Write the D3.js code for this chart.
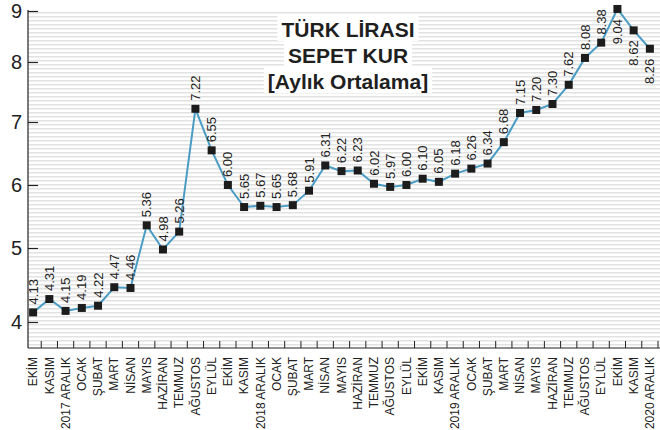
<!DOCTYPE html>
<html>
<head>
<meta charset="utf-8">
<script src="https://cdn.jsdelivr.net/npm/d3@7"></script>
<style>
  html, body { margin: 0; padding: 0; background: #fff; }
  svg { display: block; font-family: "Liberation Sans", Arial, Helvetica, sans-serif; }
</style>
</head>
<body>
<svg id="chart" width="660" height="430"></svg>
<script>
// ---- data ----
const categories = ["EKİM","KASIM","2017 ARALIK","OCAK","ŞUBAT","MART","NİSAN","MAYIS","HAZİRAN","TEMMUZ","AĞUSTOS","EYLÜL",
  "EKİM","KASIM","2018 ARALIK","OCAK","ŞUBAT","MART","NİSAN","MAYIS","HAZİRAN","TEMMUZ","AĞUSTOS","EYLÜL",
  "EKİM","KASIM","2019 ARALIK","OCAK","ŞUBAT","MART","NİSAN","MAYIS","HAZİRAN","TEMMUZ","AĞUSTOS","EYLÜL",
  "EKİM","KASIM","2020 ARALIK"];
const values = [4.13,4.31,4.15,4.19,4.22,4.47,4.46,5.36,4.98,5.26,7.22,6.55,
  6.00,5.65,5.67,5.65,5.68,5.91,6.31,6.22,6.23,6.02,5.97,6.00,
  6.10,6.05,6.18,6.26,6.34,6.68,7.15,7.20,7.30,7.62,8.08,8.38,
  9.04,8.62,8.26];
const yTicks = [4,5,6,7,8,9];
const titleLines = ["TÜRK LİRASI","SEPET KUR","[Aylık Ortalama]"];

// ---- layout ----
const W = 660, H = 430;
const plotLeft = 28, plotRight = 660, plotTop = 10, plotBottom = 348;
const svg = d3.select("#chart");

const x = d3.scaleBand().domain(d3.range(categories.length)).range([25, 658]).padding(0);
const y = d3.scaleLinear().domain([4,5,6,7,8,9]).range([322,248,185,122,62,11]);

// striped background
const defs = svg.append("defs");
const pat = defs.append("pattern").attr("id","stripes").attr("patternUnits","userSpaceOnUse")
  .attr("width",10).attr("height",4);
pat.append("rect").attr("width",10).attr("height",4).attr("fill","#ffffff");
pat.append("rect").attr("y",0).attr("width",10).attr("height",1.5).attr("fill","#e2e2e2");
svg.append("rect").attr("x",plotLeft).attr("y",plotTop)
  .attr("width",plotRight-plotLeft).attr("height",plotBottom-plotTop)
  .attr("fill","url(#stripes)");

// title with white boxes
const tg = svg.append("g").attr("transform","translate(348,0)");
const titleY = [37, 63, 89];
titleLines.forEach((t,i) => {
  const txt = tg.append("text").attr("x",0).attr("y",titleY[i])
    .attr("text-anchor","middle").attr("font-size",21).attr("font-weight","bold")
    .attr("fill","#1f1f1f").text(t);
  const bb = txt.node().getBBox();
  tg.insert("rect","text").attr("x",bb.x-4).attr("y",titleY[i]-22)
    .attr("width",bb.width+8).attr("height",26).attr("fill","#fff");
});

// y axis
const yAxis = d3.axisLeft(y).tickValues(yTicks).tickSize(-10).tickSizeOuter(0).tickPadding(6)
  .tickFormat(d3.format("d"));
const gy = svg.append("g").attr("transform",`translate(${plotLeft},0)`).call(yAxis);
gy.select(".domain").remove();
gy.selectAll(".tick line").attr("stroke","#222").attr("stroke-width",1.2);
gy.selectAll(".tick text").attr("font-size",20).attr("fill","#222")
  .attr("font-family","'Liberation Sans', Arial, sans-serif");
svg.append("line").attr("x1",plotLeft).attr("x2",plotLeft).attr("y1",plotTop).attr("y2",plotBottom)
  .attr("stroke","#222").attr("stroke-width",1.2);

// x axis
const xAxis = d3.axisBottom(x).tickSize(0).tickPadding(0).tickFormat(i => categories[i]);
const gx = svg.append("g").attr("transform",`translate(0,${plotBottom})`).call(xAxis);
gx.select(".domain").remove();
gx.selectAll(".tick text")
  .attr("transform","rotate(-90)").attr("x",-9).attr("y",0).attr("dy","0.35em")
  .attr("text-anchor","end").attr("font-size",12).attr("fill","#222")
  .attr("font-family","'Liberation Sans', Arial, sans-serif");
svg.append("line").attr("x1",plotLeft).attr("x2",plotRight).attr("y1",plotBottom).attr("y2",plotBottom)
  .attr("stroke","#222").attr("stroke-width",1.2);
// boundary ticks
svg.append("g").selectAll("line").data(d3.range(1, categories.length)).join("line")
  .attr("x1", i => x(i)).attr("x2", i => x(i))
  .attr("y1", plotBottom - 7).attr("y2", plotBottom)
  .attr("stroke","#222").attr("stroke-width",1);
svg.append("line").attr("x1",x(categories.length-1)+x.bandwidth()).attr("x2",x(categories.length-1)+x.bandwidth())
  .attr("y1",plotBottom-7).attr("y2",plotBottom).attr("stroke","#222");

// line
const cx = i => x(i) + x.bandwidth()/2;
const line = d3.line().x((d,i) => cx(i)).y(d => y(d));
svg.append("path").datum(values).attr("d",line)
  .attr("fill","none").attr("stroke","#4b9cc4").attr("stroke-width",2);

// markers
const ms = 8;
svg.append("g").selectAll("rect").data(values).join("rect")
  .attr("x",(d,i) => cx(i) - ms/2).attr("y", d => y(d) - ms/2)
  .attr("width",ms).attr("height",ms).attr("fill","#1c1c1c");

// value labels
const fmt = d3.format(".2f");
const below = i => i >= categories.length - 3;
svg.append("g").selectAll("text").data(values).join("text")
  .attr("transform",(d,i) => below(i)
      ? `translate(${cx(i)},${y(d)+10}) rotate(-90)`
      : `translate(${cx(i)},${y(d)-8}) rotate(-90)`)
  .attr("text-anchor",(d,i) => below(i) ? "end" : "start")
  .attr("dy","0.35em")
  .attr("font-size",13).attr("fill","#222")
  .text(d => fmt(d));
</script>
</body>
</html>
